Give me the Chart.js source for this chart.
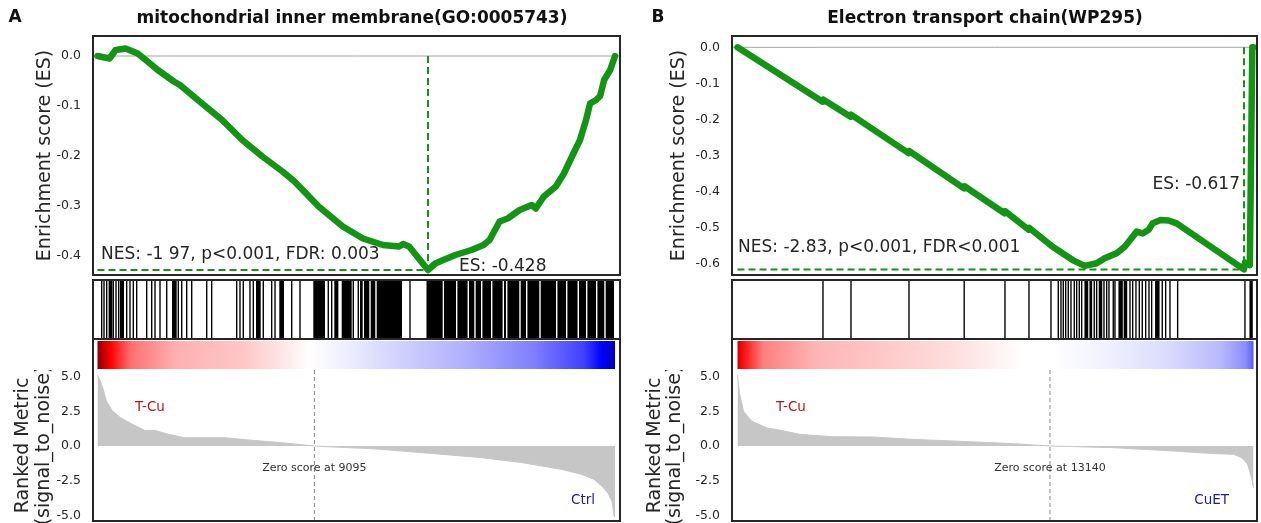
<!DOCTYPE html>
<html><head><meta charset="utf-8">
<script src="https://cdn.jsdelivr.net/npm/chart.js@4.4.1/dist/chart.umd.min.js"></script>
<style>
html,body{margin:0;padding:0;background:#fff;}
#wrap{position:relative;width:1261px;height:523px;overflow:hidden;background:#fff;}
canvas{position:absolute;}
</style></head><body><div id="wrap"></div>
<script>
// ================= DATA =================
const N_GENES = 21700;

// ---- Panel A: mitochondrial inner membrane ----
const esRankA = [0,506,759,1180,1686,2023,2529,3203,3456,4384,5227,6070,6913,7756,8261,9273,10285,11128,11971,12645,12814,13067,13859,14162,14500,15005,15680,16186,16439,16860,17197,17703,18209,18378,18715,19220,19558,19895,20232,20485,20654,20907,21076,21244,21497,21700];
const esValA  = [0,-0.005,0.012,0.015,0.005,-0.008,-0.028,-0.051,-0.058,-0.095,-0.128,-0.168,-0.201,-0.231,-0.251,-0.301,-0.341,-0.365,-0.378,-0.381,-0.376,-0.381,-0.428,-0.415,-0.408,-0.398,-0.388,-0.378,-0.368,-0.331,-0.325,-0.308,-0.298,-0.305,-0.281,-0.261,-0.235,-0.201,-0.168,-0.128,-0.095,-0.088,-0.080,-0.048,-0.028,0];
const hitLinesA = [176,273,386,662,776,889,1224,1363,1501,1644,2063,2273,2411,2621,2902,3388,3531,3740,3950,4579,4788,5837,5975,6113,6394,6533,6952,7304,7443,8143,8491,9677,9820,10726,10935,13103];
const hitBlocksA = [[466,624],[944,1111],[3124,3321],[6646,6843],[7623,7820],[9049,9539],[9930,10100],[10239,10659],[11007,11120],[11174,11397],[11455,11648],[11707,12768],[13795,14474],[14529,15032],[15091,15518],[15577,15799],[15858,16080],[16139,16499],[16558,16986],[17045,17128],[17187,17686],[17745,17967],[18026,18525],[18583,19225],[19284,19645],[19703,20130],[20190,20483],[20541,20902],[20961,21250],[21309,21657]];
const metricRankA = [0,118,252,370,623,959,1464,1969,2390,2979,3652,5335,6008,7691,9095,10216,11562,12740,14423,16106,17789,19472,20314,20818,21155,21408,21576,21660,21700];
const metricValA  = [5.1,4.7,4.0,3.25,2.53,2.05,1.57,1.13,1.13,0.84,0.6,0.6,0.48,0.24,0,-0.1,-0.2,-0.36,-0.6,-0.84,-1.2,-1.69,-2.05,-2.41,-2.9,-3.4,-4.0,-5.06,-5.1];
const zeroScoreA = 9095;
const esTicksA = [0,-0.1,-0.2,-0.3,-0.4];

// ---- Panel B: Electron transport chain ----
const esRankB = [0,3580,3600,4755,4775,7195,7215,9525,9545,11230,11250,12245,12260,13254,14095,14600,15104,15441,15945,16282,16618,16786,17038,17291,17459,17795,18132,18468,21300,21340,21545,21650,21700];
const esValB  = [0,-0.151,-0.145,-0.193,-0.187,-0.294,-0.288,-0.392,-0.386,-0.461,-0.455,-0.507,-0.501,-0.554,-0.591,-0.607,-0.600,-0.586,-0.572,-0.554,-0.526,-0.512,-0.517,-0.507,-0.489,-0.480,-0.481,-0.489,-0.617,-0.598,-0.605,0,0];
const hitLinesB = [3595,4773,7212,9533,11248,12258,13183,13490,13603,13700,13801,13910,14024,14162,14263,14373,14474,15003,15104,15412,15525,15622,15802,15874,16505,16618,16757,16896,17022,17165,17304,17417,17863,18006,18187,18510,21340];
const hitBlocksB = [[14590,14750],[14800,14915],[15190,15340],[16020,16205],[16240,16390],[17560,17750],[21530,21670]];
const metricRankB = [0,84,253,591,1267,1605,2618,3969,5658,7347,9036,11316,13140,15792,18326,20015,20859,21197,21450,21620,21700];
const metricValB  = [5.1,3.8,2.5,1.8,1.28,1.2,0.84,0.67,0.65,0.48,0.36,0.19,0,-0.12,-0.36,-0.55,-0.6,-0.84,-1.3,-2.3,-3.0];
const zeroScoreB = 13140;
const esTicksB = [0,-0.1,-0.2,-0.3,-0.4,-0.5,-0.6];

const metricTicks = [5,2.5,0,-2.5,-5];

// ================= STYLE / LAYOUT =================
const FONT = "'DejaVu Sans','Liberation Sans',sans-serif";
const GREEN = '#149414';
const FRAME = '#262626';
const TXT = '#262626';
Chart.defaults.font.family = FONT;

const cmapA = [[0,'#8b0000'],[0.025,'#ff0000'],[0.065,'#ff7070'],[0.15,'#ffb0b0'],[0.28,'#ffc6c6'],[0.355,'#ffe4e4'],[0.41,'#ffffff'],[0.486,'#ececff'],[0.578,'#d2d2ff'],[0.71,'#b0b0ff'],[0.842,'#8080ff'],[0.94,'#4040ff'],[0.974,'#0000ff'],[1,'#0000b8']];
const cmapB = [[0,'#d00000'],[0.012,'#ff1010'],[0.05,'#ff8080'],[0.15,'#ffb4b4'],[0.31,'#ffcccc'],[0.44,'#ffe2e2'],[0.555,'#ffffff'],[0.61,'#ffffff'],[0.706,'#f2f2ff'],[0.837,'#dadaff'],[0.936,'#b8b8ff'],[0.985,'#8c8cff'],[1,'#5a5af0']];

// all *X values below are page coordinates except letterX/titleX (canvas-relative)
const panels = [
  { ox:0, fl:93, fr:620, xmin:-188.7, xmax:21909,
    letter:'A', letterX:15, title:'mitochondrial inner membrane(GO:0005743)', titleX:352,
    esRank:esRankA, esVal:esValA, esTicks:esTicksA, esMin:-0.438, esMax:0.04,
    esTitlePad:33.6, rmTitlePad:13.25,
    nes:'NES: -1 97, p<0.001, FDR: 0.003', nesX:101, nesY:255,
    esText:'ES: -0.428', esAlign:'left', esDx:31, esY:267,
    hitLines:hitLinesA, hitBlocks:hitBlocksA, cmap:cmapA,
    mRank:metricRankA, mVal:metricValA, zero:zeroScoreA,
    pos:'T-Cu', posX:135, neg:'Ctrl', negX:595 },
  { ox:640, fl:732, fr:1257, xmin:-231.3, xmax:21847,
    letter:'B', letterX:18, title:'Electron transport chain(WP295)', titleX:345,
    esRank:esRankB, esVal:esValB, esTicks:esTicksB, esMin:-0.6325, esMax:0.0314,
    esTitlePad:27.6, rmTitlePad:4.75,
    nes:'NES: -2.83, p<0.001, FDR<0.001', nesX:738, nesY:248,
    esText:'ES: -0.617', esAlign:'right', esDx:-4, esY:185,
    hitLines:hitLinesB, hitBlocks:hitBlocksB, cmap:cmapB,
    mRank:metricRankB, mVal:metricValB, zero:zeroScoreB,
    pos:'T-Cu', posX:776, neg:'CuET', negX:1229 }
];

const HIT_HALF = 29; // half width of a single hit line, in genes

function mkCanvas(left, top, w, h) {
  const c = document.createElement('canvas');
  c.width = w; c.height = h;
  c.style.left = left + 'px'; c.style.top = top + 'px';
  c.style.width = w + 'px'; c.style.height = h + 'px';
  document.getElementById('wrap').appendChild(c);
  return c.getContext('2d');
}
const common = { responsive:false, animation:false, devicePixelRatio:1, events:[],
  plugins:{ legend:{display:false}, tooltip:{enabled:false}, title:{display:false} } };

function frame(sides) {
  return { id:'frame', afterDraw(chart) {
    const {ctx, chartArea:a} = chart;
    ctx.save(); ctx.strokeStyle = FRAME; ctx.lineWidth = 2; ctx.beginPath();
    if (sides.includes('t')) { ctx.moveTo(a.left-1, a.top); ctx.lineTo(a.right+1, a.top); }
    if (sides.includes('b')) { ctx.moveTo(a.left-1, a.bottom); ctx.lineTo(a.right+1, a.bottom); }
    if (sides.includes('l')) { ctx.moveTo(a.left, sides.includes('T') ? 0 : a.top); ctx.lineTo(a.left, sides.includes('B') ? chart.height : a.bottom); }
    if (sides.includes('r')) { ctx.moveTo(a.right, sides.includes('T') ? 0 : a.top); ctx.lineTo(a.right, sides.includes('B') ? chart.height : a.bottom); }
    ctx.stroke(); ctx.restore();
  }};
}

function yAxis(min, max, ticks, width, title, pad, lh) {
  return {
    type:'linear', min, max, position:'left',
    afterBuildTicks: s => { s.ticks = ticks.map(v => ({value:v})); },
    afterFit: s => { s.width = width; s.paddingTop = 0; s.paddingBottom = 0; },
    grid:{display:false, drawTicks:false}, border:{display:false},
    ticks:{padding:12, color:TXT, font:{family:FONT, size:12.5}, callback: v => Number(v).toFixed(1)},
    title:{display:true, text:title, color:TXT, font:{family:FONT, size:19, lineHeight:lh}, padding:{top:pad, bottom:0}}
  };
}

panels.forEach(p => {
  const W = p.fr + 2 - p.ox;
  const xs = {type:'linear', display:false, min:p.xmin, max:p.xmax};

  // ---------- Enrichment score ----------
  let iMin = 0;
  p.esVal.forEach((v,i) => { if (v < p.esVal[iMin]) iMin = i; });
  const rMin = p.esRank[iMin], vMin = p.esVal[iMin];
  const esTexts = { id:'esTexts', afterDraw(chart) {
    const {ctx, scales:{x}} = chart;
    ctx.save(); ctx.fillStyle = '#111'; ctx.textBaseline = 'middle';
    ctx.font = `bold 17px ${FONT}`; ctx.textAlign = 'center';
    ctx.fillText(p.letter, p.letterX, 18);
    ctx.fillText(p.title, p.titleX, 19);
    ctx.fillStyle = TXT; ctx.font = `17px ${FONT}`; ctx.textAlign = 'left';
    ctx.fillText(p.nes, p.nesX - p.ox, p.nesY);
    ctx.textAlign = p.esAlign;
    ctx.fillText(p.esText, x.getPixelForValue(rMin) + p.esDx, p.esY);
    ctx.restore();
  }};
  new Chart(mkCanvas(p.ox, 0, W, 278), {
    type:'line',
    data:{ datasets:[
      { data:[{x:p.xmin,y:0},{x:p.xmax,y:0}], borderColor:'#a3a3a3', borderWidth:1, pointRadius:0, order:4 },
      { data:[{x:0,y:vMin},{x:rMin,y:vMin}], borderColor:GREEN, borderWidth:2, borderDash:[7,4], pointRadius:0, order:3 },
      { data:[{x:rMin,y:0},{x:rMin,y:vMin}], borderColor:GREEN, borderWidth:2, borderDash:[7,4], pointRadius:0, order:2 },
      { data:p.esRank.map((r,i) => ({x:r, y:p.esVal[i]})), borderColor:GREEN, borderWidth:6.5, pointRadius:0,
        borderJoinStyle:'round', borderCapStyle:'round', order:1 }
    ]},
    options:{ ...common, layout:{padding:{top:36, right:2, bottom:3, left:0}},
      scales:{ x:xs, y:yAxis(p.esMin, p.esMax, p.esTicks, p.fl - p.ox, 'Enrichment score (ES)', p.esTitlePad, 1.2) } },
    plugins:[frame('tblr'), esTexts]
  });

  // ---------- Hits ----------
  const hitData = p.hitLines.map(r => ({x:[r - HIT_HALF, r + HIT_HALF], y:'hits'}))
    .concat(p.hitBlocks.map(b => ({x:[b[0], b[1]], y:'hits'})));
  new Chart(mkCanvas(p.ox, 277, W, 64), {
    type:'bar',
    data:{ labels:['hits'], datasets:[{ data:hitData, backgroundColor:'#000', borderWidth:0,
      barPercentage:1, categoryPercentage:1, inflateAmount:0 }]},
    options:{ ...common, indexAxis:'y', layout:{padding:{top:3, right:2, bottom:2, left:p.fl - p.ox}},
      scales:{ x:xs, y:{display:false} } },
    plugins:[frame('tblr')]
  });

  // ---------- Ranked metric ----------
  const yTop = 5.48, yBot = -5.41;
  const rmTexts = { id:'rmTexts', afterDraw(chart) {
    const {ctx, scales:{x}} = chart;
    ctx.save(); ctx.textBaseline = 'middle';
    ctx.font = `13.5px ${FONT}`;
    ctx.fillStyle = '#b01818'; ctx.textAlign = 'left';
    ctx.fillText(p.pos, p.posX - p.ox, 407 - 370);
    ctx.fillStyle = '#1f1f8f'; ctx.textAlign = 'right';
    ctx.fillText(p.neg, p.negX - p.ox, 500 - 370);
    ctx.fillStyle = '#333'; ctx.font = `11px ${FONT}`; ctx.textAlign = 'center';
    ctx.fillText('Zero score at ' + p.zero, x.getPixelForValue(p.zero), 468 - 370);
    ctx.restore();
  }};
  new Chart(mkCanvas(p.ox, 370, W, 153), {
    type:'line',
    data:{ datasets:[
      { data:p.mRank.map((r,i) => ({x:r, y:p.mVal[i]})), fill:'origin', backgroundColor:'#c6c6c6',
        borderColor:'#c6c6c6', borderWidth:1, pointRadius:0, order:2 },
      { data:[{x:p.zero,y:yTop},{x:p.zero,y:yBot}], borderColor:'#8a8a8a', borderWidth:1, borderDash:[4,3], pointRadius:0, order:1 }
    ]},
    options:{ ...common, layout:{padding:{top:0, right:2, bottom:2, left:0}},
      scales:{ x:xs, y:yAxis(yBot, yTop, metricTicks, p.fl - p.ox, ['Ranked Metric','(signal_to_noise)'], p.rmTitlePad, 1.08) } },
    plugins:[frame('lrbT'), rmTexts]
  });

  // ---------- Colour bar ----------
  new Chart(mkCanvas(p.ox, 339, W, 31), {
    type:'bar',
    data:{ labels:['cb'], datasets:[{ data:[{x:[0, N_GENES], y:'cb'}], borderWidth:0, inflateAmount:0,
      barPercentage:1, categoryPercentage:1,
      backgroundColor: c => {
        const ch = c.chart; if (!ch.chartArea) return '#fff';
        const sx = ch.scales.x;
        const g = ch.ctx.createLinearGradient(sx.getPixelForValue(0), 0, sx.getPixelForValue(N_GENES), 0);
        p.cmap.forEach(s => g.addColorStop(s[0], s[1]));
        return g;
      } }]},
    options:{ ...common, indexAxis:'y', layout:{padding:{top:2, right:2, bottom:1, left:p.fl - p.ox}},
      scales:{ x:xs, y:{display:false} } },
    plugins:[frame('lrTB')]
  });
});
</script>
</body></html>
